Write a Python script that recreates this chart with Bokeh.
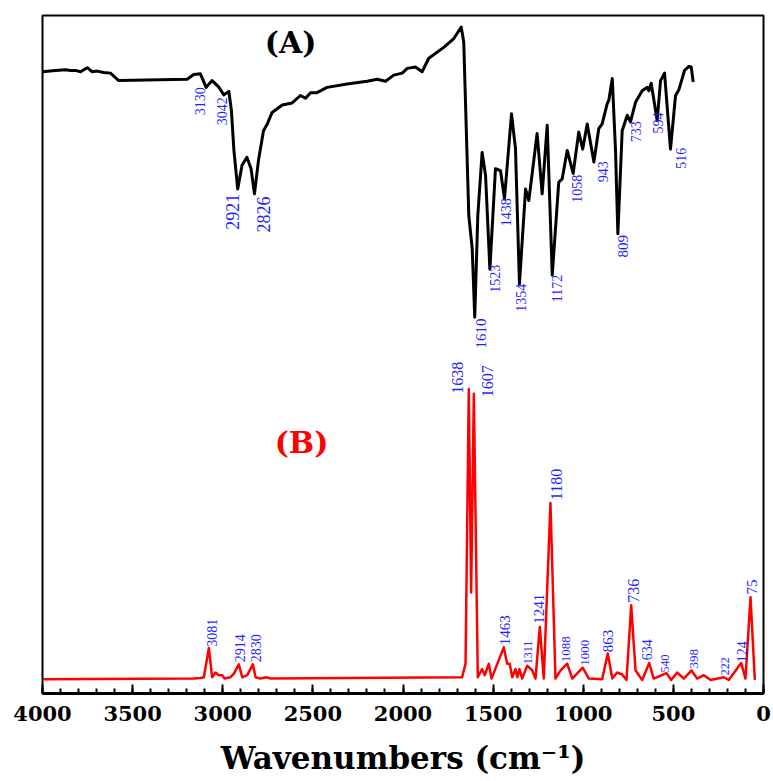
import numpy as np
from bokeh.plotting import figure
from bokeh.models import Range1d, SingleIntervalTicker, ColumnDataSource, Label
from bokeh.embed import file_html
from bokeh.resources import INLINE
from bokeh.core.properties import value

# ---- Spectrum (A): experimental FT-IR (relative transmittance, a.u.) ----
a_wn = [4000, 3928, 3872, 3845, 3817, 3789, 3752, 3724, 3697, 3660, 3623, 3577, 3197, 3161, 3124,
        3092, 3059, 3024, 2994, 2966, 2952, 2938, 2917, 2893, 2866, 2843, 2824, 2802, 2774, 2753,
        2726, 2670, 2615, 2569, 2541, 2513, 2480, 2421, 2310, 2199, 2143, 2097, 2051, 2004, 1977,
        1931, 1894, 1857, 1774, 1718, 1677, 1663, 1635, 1616, 1602, 1585, 1561, 1542, 1518, 1487,
        1459, 1437, 1398, 1376, 1354, 1320, 1302, 1256, 1228, 1200, 1172, 1136, 1117, 1089, 1056,
        1025, 1003, 978, 941, 914, 895, 867, 858, 839, 821, 808, 784, 756, 738, 710,
        673, 645, 636, 623, 590, 571, 549, 516, 488, 470, 438, 414, 401, 390]
a_val = [91.7, 91.9, 92.0, 91.9, 91.9, 91.7, 92.3, 91.7, 91.8, 91.6, 91.5, 90.4, 90.6, 91.3, 91.4,
         89.4, 90.4, 89.5, 88.3, 88.8, 86.0, 80.1, 74.4, 77.9, 79.1, 77.4, 73.7, 78.6, 83.0, 84.0,
         85.7, 86.8, 87.1, 88.2, 87.8, 88.6, 88.6, 89.4, 89.9, 90.3, 90.6, 90.3, 91.2, 91.5, 92.2,
         92.4, 91.7, 93.7, 95.3, 96.6, 98.3, 96.1, 70.5, 65.6, 55.5, 70.5, 79.8, 76.4, 62.6, 77.4,
         77.1, 73.0, 85.5, 80.4, 60.4, 74.4, 72.7, 82.6, 73.7, 83.8, 61.7, 75.4, 75.9, 80.1, 76.7,
         82.8, 80.3, 84.0, 78.4, 83.3, 84.0, 87.0, 87.5, 90.7, 80.1, 67.8, 83.0, 85.3, 84.3, 87.2,
         88.9, 89.4, 88.9, 90.0, 84.5, 90.4, 91.5, 80.3, 88.2, 89.0, 91.9, 92.5, 92.4, 90.2]

# ---- Spectrum (B): computed / Raman-like intensities (a.u.) ----
b_wn = [4000, 3161, 3124, 3105, 3077, 3059, 3040, 3022, 3003, 2990, 2957, 2939, 2911, 2892, 2864,
        2833, 2818, 2791, 2757, 2735, 1672, 1653, 1635, 1622, 1607, 1585, 1561, 1546, 1524, 1509,
        1441, 1422, 1408, 1394, 1376, 1366, 1354, 1339, 1311, 1283, 1265, 1241, 1219, 1182, 1154,
        1126, 1089, 1061, 1003, 969, 895, 864, 839, 812, 784, 760, 734, 710, 673, 634,
        609, 538, 512, 479, 442, 399, 368, 331, 294, 220, 193, 124, 100, 72, 48]
b_val = [2.1, 2.2, 2.3, 2.4, 6.7, 2.4, 3.1, 2.7, 2.7, 2.2, 2.4, 2.9, 4.3, 2.4, 2.7,
         4.3, 2.4, 2.2, 2.4, 2.2, 2.4, 4.4, 44.9, 14.9, 44.2, 2.4, 3.6, 2.7, 4.4, 2.2,
         6.8, 4.4, 4.4, 2.4, 3.6, 2.4, 3.6, 2.2, 4.1, 3.4, 2.2, 9.8, 2.2, 28.1, 2.2,
         3.4, 4.4, 2.2, 3.8, 2.2, 2.1, 5.9, 2.2, 3.1, 2.8, 2.0, 13.0, 3.4, 2.0, 4.5,
         2.2, 3.0, 2.0, 3.1, 2.2, 3.4, 2.2, 2.7, 2.0, 2.4, 2.0, 4.5, 2.2, 14.2, 2.0]

# ---- Peak annotations ----
a_lab_text = ["3130", "3042", "2921", "2826", "1610", "1523", "1438", "1354", "1172", "1058",
              "943", "809", "733", "594", "516"]
a_lab_x = [3124, 3002, 2946, 2774, 1570, 1492, 1426, 1343, 1148, 1032, 888, 782, 710, 583, 460]
a_lab_y = [85.3, 83.8, 68.4, 68.0, 50.9, 59.1, 68.9, 56.3, 57.7, 72.4, 75.4, 64.3, 81.3, 82.6, 77.4]
a_lab_size = ["14px", "14px", "18px", "18px", "15px", "14px", "14px", "14px", "14px", "14px",
              "14px", "15px", "14px", "14px", "14px"]

b_lab_text = ["3081", "2914", "2830", "1638", "1607", "1463", "1311", "1241", "1180", "1088",
              "1000", "863", "736", "634", "540", "398", "222", "124", "75"]
b_lab_x = [3057, 2907, 2818, 1698, 1531, 1434, 1307, 1248, 1148, 1093, 988, 865, 721, 646, 549,
           388, 211, 122, 64]
b_lab_y = [6.9, 4.6, 4.6, 44.2, 43.7, 7.1, 4.3, 10.3, 28.5, 4.6, 4.1, 6.1, 13.4, 4.9, 3.1,
           3.7, 2.7, 4.6, 14.6]
b_lab_size = ["14px", "14px", "14px", "16px", "16px", "15px", "12px", "15px", "16px", "13px",
              "13px", "15px", "16px", "14px", "12px", "13px", "12px", "14px", "15px"]

tick_interval = 500

p = figure(width=772, height=780, x_range=Range1d(4000, 0), y_range=Range1d(0, 100),
           output_backend="svg", toolbar_location=None, y_axis_location=None,
           min_border_left=42, min_border_top=15, min_border_right=9, min_border_bottom=87)
p.grid.visible = False
p.outline_line_color = "black"
p.outline_line_width = 2
p.background_fill_color = "white"
p.border_fill_color = "white"

p.line(a_wn, a_val, line_color="black", line_width=3, line_join="round")
p.line(b_wn, b_val, line_color="#ff0000", line_width=2.5, line_join="round")

src_a = ColumnDataSource(dict(x=a_lab_x, y=a_lab_y, t=a_lab_text, s=a_lab_size))
src_b = ColumnDataSource(dict(x=b_lab_x, y=b_lab_y, t=b_lab_text, s=b_lab_size))
for src in (src_a, src_b):
    p.text(x="x", y="y", text="t", source=src, angle=np.pi / 2, text_align="left",
           text_baseline="middle", text_color="#1f1fff", text_font=value("Liberation Serif"),
           text_font_size="s")

p.add_layout(Label(x=2624, y=96.0, text="(A)", text_align="center", text_baseline="middle",
                   text_font="DejaVu Serif", text_font_style="bold", text_font_size="30px",
                   text_color="black"))
p.add_layout(Label(x=2563, y=37.0, text="(B)", text_align="center", text_baseline="middle",
                   text_font="DejaVu Serif", text_font_style="bold", text_font_size="30px",
                   text_color="#ff0000"))

ax = p.xaxis[0]
ax.ticker = SingleIntervalTicker(interval=tick_interval, num_minor_ticks=5)
ax.major_tick_in = 9
ax.major_tick_out = 0
ax.minor_tick_in = 5
ax.minor_tick_out = 0
ax.major_tick_line_width = 2
ax.minor_tick_line_width = 2
ax.axis_line_width = 3
ax.major_label_standoff = 12
ax.major_label_text_font = "DejaVu Serif"
ax.major_label_text_font_style = "bold"
ax.major_label_text_font_size = "21px"
ax.major_label_text_color = "black"
ax.axis_label = "Wavenumbers (cm⁻¹)"
ax.axis_label_text_font = "DejaVu Serif"
ax.axis_label_text_font_style = "bold"
ax.axis_label_text_font_size = "31px"
ax.axis_label_text_color = "black"
ax.axis_label_standoff = 16

open("out.html", "w").write(file_html(p, INLINE))
